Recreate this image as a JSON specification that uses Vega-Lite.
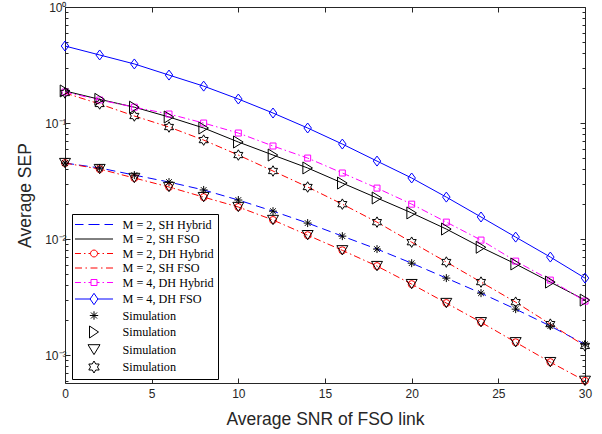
{
  "$schema": "https://vega.github.io/schema/vega-lite/v6.json",
  "width": 520,
  "height": 376,
  "autosize": "none",
  "padding": {"left": 65, "top": 7, "right": 17, "bottom": 51},
  "background": "white",
  "config": {
    "view": {"stroke": null},
    "axis": {"grid": false, "labelFont": "Liberation Sans", "titleFont": "Liberation Sans", "labelColor": "#262626", "titleColor": "#262626", "domainColor": "#262626", "tickColor": "#262626", "domainWidth": 1, "tickWidth": 1, "labelFontSize": 12, "titleFontSize": 17.5, "titleFontWeight": "normal", "labelOverlap": false, "labelFlush": false}
  },
  "data": {
    "values": [
      {"snr":0,"sep":0.0452,"s":"L1"},{"snr":2,"sep":0.041,"s":"L1"},{"snr":4,"sep":0.0356,"s":"L1"},{"snr":6,"sep":0.031,"s":"L1"},{"snr":8,"sep":0.0265,"s":"L1"},{"snr":10,"sep":0.0217,"s":"L1"},{"snr":12,"sep":0.0174,"s":"L1"},{"snr":14,"sep":0.01374,"s":"L1"},{"snr":16,"sep":0.0106,"s":"L1"},{"snr":18,"sep":0.0082,"s":"L1"},{"snr":20,"sep":0.0062,"s":"L1"},{"snr":22,"sep":0.00461,"s":"L1"},{"snr":24,"sep":0.00342,"s":"L1"},{"snr":26,"sep":0.00249,"s":"L1"},{"snr":28,"sep":0.00178,"s":"L1"},{"snr":30,"sep":0.00124,"s":"L1"},
      {"snr":0,"sep":0.189,"s":"L2"},{"snr":2,"sep":0.16,"s":"L2"},{"snr":4,"sep":0.137,"s":"L2"},{"snr":6,"sep":0.1127,"s":"L2"},{"snr":8,"sep":0.0906,"s":"L2"},{"snr":10,"sep":0.0686,"s":"L2"},{"snr":12,"sep":0.053,"s":"L2"},{"snr":14,"sep":0.041,"s":"L2"},{"snr":16,"sep":0.0304,"s":"L2"},{"snr":18,"sep":0.0226,"s":"L2"},{"snr":20,"sep":0.0168,"s":"L2"},{"snr":22,"sep":0.0122,"s":"L2"},{"snr":24,"sep":0.0085,"s":"L2"},{"snr":26,"sep":0.0061,"s":"L2"},{"snr":28,"sep":0.00426,"s":"L2"},{"snr":30,"sep":0.00298,"s":"L2"},
      {"snr":0,"sep":0.0452,"s":"L3"},{"snr":2,"sep":0.0401,"s":"L3"},{"snr":4,"sep":0.0336,"s":"L3"},{"snr":6,"sep":0.0281,"s":"L3"},{"snr":8,"sep":0.023,"s":"L3"},{"snr":10,"sep":0.0189,"s":"L3"},{"snr":12,"sep":0.0146,"s":"L3"},{"snr":14,"sep":0.0108,"s":"L3"},{"snr":16,"sep":0.008,"s":"L3"},{"snr":18,"sep":0.00585,"s":"L3"},{"snr":20,"sep":0.00409,"s":"L3"},{"snr":22,"sep":0.00281,"s":"L3"},{"snr":24,"sep":0.00192,"s":"L3"},{"snr":26,"sep":0.00129,"s":"L3"},{"snr":28,"sep":0.00087,"s":"L3"},{"snr":30,"sep":0.0006,"s":"L3"},
      {"snr":0,"sep":0.1815,"s":"L4"},{"snr":2,"sep":0.146,"s":"L4"},{"snr":4,"sep":0.115,"s":"L4"},{"snr":6,"sep":0.0924,"s":"L4"},{"snr":8,"sep":0.0713,"s":"L4"},{"snr":10,"sep":0.053,"s":"L4"},{"snr":12,"sep":0.0386,"s":"L4"},{"snr":14,"sep":0.0281,"s":"L4"},{"snr":16,"sep":0.02,"s":"L4"},{"snr":18,"sep":0.014,"s":"L4"},{"snr":20,"sep":0.0094,"s":"L4"},{"snr":22,"sep":0.00634,"s":"L4"},{"snr":24,"sep":0.00426,"s":"L4"},{"snr":26,"sep":0.00286,"s":"L4"},{"snr":28,"sep":0.00185,"s":"L4"},{"snr":30,"sep":0.0012,"s":"L4"},
      {"snr":0,"sep":0.185,"s":"L5"},{"snr":2,"sep":0.158,"s":"L5"},{"snr":4,"sep":0.137,"s":"L5"},{"snr":6,"sep":0.1196,"s":"L5"},{"snr":8,"sep":0.1,"s":"L5"},{"snr":10,"sep":0.082,"s":"L5"},{"snr":12,"sep":0.0634,"s":"L5"},{"snr":14,"sep":0.0499,"s":"L5"},{"snr":16,"sep":0.0371,"s":"L5"},{"snr":18,"sep":0.0275,"s":"L5"},{"snr":20,"sep":0.02,"s":"L5"},{"snr":22,"sep":0.014,"s":"L5"},{"snr":24,"sep":0.0098,"s":"L5"},{"snr":26,"sep":0.00646,"s":"L5"},{"snr":28,"sep":0.00443,"s":"L5"},{"snr":30,"sep":0.00292,"s":"L5"},
      {"snr":0,"sep":0.461,"s":"L6"},{"snr":2,"sep":0.386,"s":"L6"},{"snr":4,"sep":0.323,"s":"L6"},{"snr":6,"sep":0.259,"s":"L6"},{"snr":8,"sep":0.208,"s":"L6"},{"snr":10,"sep":0.161,"s":"L6"},{"snr":12,"sep":0.122,"s":"L6"},{"snr":14,"sep":0.0906,"s":"L6"},{"snr":16,"sep":0.0659,"s":"L6"},{"snr":18,"sep":0.047,"s":"L6"},{"snr":20,"sep":0.0336,"s":"L6"},{"snr":22,"sep":0.023,"s":"L6"},{"snr":24,"sep":0.0155,"s":"L6"},{"snr":26,"sep":0.0104,"s":"L6"},{"snr":28,"sep":0.007,"s":"L6"},{"snr":30,"sep":0.00461,"s":"L6"}
    ]
  },
  "encoding": {
    "x": {"field": "snr", "type": "quantitative", "scale": {"domain": [0, 30], "nice": false, "zero": false}, "axis": null},
    "y": {"field": "sep", "type": "quantitative", "scale": {"type": "log", "domain": [0.000575, 1], "nice": false}, "axis": null}
  },
  "layer": [
    {
      "transform": [{"filter": "datum.s == 'L1'"}],
      "mark": {"type": "line", "color": "#0000ff", "strokeWidth": 1, "strokeDash": [9, 5]},
      "encoding": {
        "x": {"field": "snr", "type": "quantitative", "scale": {"domain": [0, 30], "nice": false, "zero": false},
          "axis": {"orient": "bottom", "values": [0, 5, 10, 15, 20, 25, 30], "title": "Average SNR of FSO link", "tickSize": -5, "labelPadding": 10, "titlePadding": 11}},
        "y": {"field": "sep", "type": "quantitative", "scale": {"type": "log", "domain": [0.000575, 1], "nice": false},
          "axis": {"orient": "left", "title": "Average SEP", "titlePadding": 10, "labelPadding": 4,
            "values": [0.0006, 0.0007, 0.0008, 0.0009, 0.001, 0.002, 0.003, 0.004, 0.005, 0.006, 0.007, 0.008, 0.009, 0.01, 0.02, 0.03, 0.04, 0.05, 0.06, 0.07, 0.08, 0.09, 0.1, 0.2, 0.3, 0.4, 0.5, 0.6, 0.7, 0.8, 0.9, 1],
            "labelExpr": "datum.value == 1 ? '10⁰' : datum.value == 0.1 ? '10⁻¹' : datum.value == 0.01 ? '10⁻²' : datum.value == 0.001 ? '10⁻³' : ''",
            "tickSize": {"condition": {"test": "datum.value == 1 || datum.value == 0.1 || datum.value == 0.01 || datum.value == 0.001", "value": -5}, "value": -3}}}
      }
    },
    {
      "transform": [{"filter": "datum.s == 'L2'"}],
      "mark": {"type": "line", "color": "#000000", "strokeWidth": 1},
      "encoding": {
        "x": {"field": "snr", "type": "quantitative", "scale": {"domain": [0, 30], "nice": false, "zero": false},
          "axis": {"orient": "top", "values": [0, 5, 10, 15, 20, 25, 30], "title": null, "labels": false, "tickSize": -5}},
        "y": {"field": "sep", "type": "quantitative", "scale": {"type": "log", "domain": [0.000575, 1], "nice": false},
          "axis": {"orient": "right", "title": null, "labels": false,
            "values": [0.0006, 0.0007, 0.0008, 0.0009, 0.001, 0.002, 0.003, 0.004, 0.005, 0.006, 0.007, 0.008, 0.009, 0.01, 0.02, 0.03, 0.04, 0.05, 0.06, 0.07, 0.08, 0.09, 0.1, 0.2, 0.3, 0.4, 0.5, 0.6, 0.7, 0.8, 0.9, 1],
            "tickSize": {"condition": {"test": "datum.value == 1 || datum.value == 0.1 || datum.value == 0.01 || datum.value == 0.001", "value": -5}, "value": -3}}}
      }
    },
    {
      "transform": [{"filter": "datum.s == 'L3'"}],
      "mark": {"type": "line", "color": "#ff0000", "strokeWidth": 1, "strokeDash": [7, 3, 1.5, 3]}
    },
    {
      "transform": [{"filter": "datum.s == 'L4'"}],
      "mark": {"type": "line", "color": "#ff0000", "strokeWidth": 1, "strokeDash": [7, 3, 1.5, 3]}
    },
    {
      "transform": [{"filter": "datum.s == 'L5'"}],
      "mark": {"type": "line", "color": "#ff00ff", "strokeWidth": 1, "strokeDash": [7, 3, 1.5, 3]}
    },
    {
      "transform": [{"filter": "datum.s == 'L6'"}],
      "mark": {"type": "line", "color": "#0000ff", "strokeWidth": 1}
    },
    {
      "transform": [{"filter": "datum.s == 'L3'"}],
      "mark": {"type": "point", "shape": "circle", "size": 49, "filled": false, "color": "#ff0000", "strokeWidth": 1, "opacity": 1}
    },
    {
      "transform": [{"filter": "datum.s == 'L5'"}],
      "mark": {"type": "point", "shape": "square", "size": 36, "filled": false, "color": "#ff00ff", "strokeWidth": 1, "opacity": 1}
    },
    {
      "transform": [{"filter": "datum.s == 'L6'"}],
      "mark": {"type": "point", "shape": "M0,-1L0.75,0L0,1L-0.75,0Z", "size": 100, "filled": false, "color": "#0000ff", "strokeWidth": 1, "opacity": 1}
    },
    {
      "transform": [{"filter": "datum.s == 'L1'"}],
      "mark": {"type": "point", "shape": "M0,-1V1M-1,0H1M-0.7,-0.7L0.7,0.7M-0.7,0.7L0.7,-0.7", "size": 64, "filled": false, "color": "#000000", "strokeWidth": 1, "opacity": 1}
    },
    {
      "transform": [{"filter": "datum.s == 'L2'"}],
      "mark": {"type": "point", "shape": "M-0.8,-1L0.8,0L-0.8,1Z", "size": 144, "filled": false, "color": "#000000", "strokeWidth": 1, "opacity": 1}
    },
    {
      "transform": [{"filter": "datum.s == 'L3'"}],
      "mark": {"type": "point", "shape": "M-1,-0.85L1,-0.85L0,0.85Z", "size": 121, "filled": false, "color": "#000000", "strokeWidth": 1, "opacity": 1}
    },
    {
      "transform": [{"filter": "datum.s == 'L4'"}],
      "mark": {"type": "point", "shape": "M0,-1L0.289,-0.5L0.866,-0.5L0.577,0L0.866,0.5L0.289,0.5L0,1L-0.289,0.5L-0.866,0.5L-0.577,0L-0.866,-0.5L-0.289,-0.5Z", "size": 110, "filled": false, "color": "#000000", "strokeWidth": 1, "opacity": 1}
    },
    {
      "transform": [{"filter": "false"}],
      "mark": {"type": "point", "filled": false, "strokeWidth": 1, "opacity": 1},
      "encoding": {
        "color": {"field": "entry", "type": "nominal",
          "scale": {"domain": ["k01","k02","k03","k04","k05","k06","k07","k08","k09","k10"], "range": ["#0000ff","#000000","#ff0000","#ff0000","#ff00ff","#0000ff","#000000","#000000","#000000","#000000"]},
          "legend": {"orient": "none", "legendX": 7, "legendY": 207, "direction": "vertical", "title": null,
            "labelExpr": "['M = 2, SH Hybrid','M = 2, SH FSO','M = 2, DH Hybrid','M = 2, SH FSO','M = 4, DH Hybrid','M = 4, DH FSO','Simulation','Simulation','Simulation','Simulation'][indexof(['k01','k02','k03','k04','k05','k06','k07','k08','k09','k10'], datum.value)]",
            "labelFont": "Liberation Serif", "labelFontSize": 12.2, "labelColor": "#000000", "labelLimit": 400,
            "labelOffset": 22, "symbolSize": 144, "symbolOffset": 11.5, "symbolStrokeWidth": 1,
            "rowPadding": 1.5, "padding": 4, "strokeColor": "#000000", "fillColor": "#ffffff", "cornerRadius": 0}},
        "shape": {"field": "entry", "type": "nominal",
          "scale": {"domain": ["k01","k02","k03","k04","k05","k06","k07","k08","k09","k10"], "range": [
            "M-3.17,0H-1.75M-0.92,0H0.92M1.75,0H3.17",
            "M-3.17,0H3.17",
            "M-3.17,0H-2.17M-1.67,0H-1.42M-0.92,0H-0.58M0.58,0H0.92M1.42,0H1.67M2.17,0H3.17M-0.58,0A0.58,0.58 0 1,0 0.58,0A0.58,0.58 0 1,0 -0.58,0Z",
            "M-3.17,0H-2M-1.42,0H-1.17M-0.58,0H0.58M1.17,0H1.42M2,0H3.17",
            "M-3.17,0H-2.17M-1.67,0H-1.42M-0.92,0H-0.5M0.5,0H0.92M1.42,0H1.67M2.17,0H3.17M-0.5,-0.5H0.5V0.5H-0.5Z",
            "M-3.17,0H-0.65M0.65,0H3.17M0,-0.95L0.65,0L0,0.95L-0.65,0Z",
            "M0,-0.7V0.7M-0.7,0H0.7M-0.5,-0.5L0.5,0.5M-0.5,0.5L0.5,-0.5",
            "M-0.75,-1L0.75,0L-0.75,1Z",
            "M-1,-0.8L1,-0.8L0,0.85Z",
            "M0,-1L0.289,-0.5L0.866,-0.5L0.577,0L0.866,0.5L0.289,0.5L0,1L-0.289,0.5L-0.866,0.5L-0.577,0L-0.866,-0.5L-0.289,-0.5Z"]},
          "legend": {"orient": "none", "legendX": 7, "legendY": 207, "direction": "vertical", "title": null,
            "labelExpr": "['M = 2, SH Hybrid','M = 2, SH FSO','M = 2, DH Hybrid','M = 2, SH FSO','M = 4, DH Hybrid','M = 4, DH FSO','Simulation','Simulation','Simulation','Simulation'][indexof(['k01','k02','k03','k04','k05','k06','k07','k08','k09','k10'], datum.value)]",
            "labelFont": "Liberation Serif", "labelFontSize": 12.2, "labelColor": "#000000", "labelLimit": 400,
            "labelOffset": 22, "symbolSize": 144, "symbolOffset": 11.5, "symbolStrokeWidth": 1,
            "rowPadding": 1.5, "padding": 4, "strokeColor": "#000000", "fillColor": "#ffffff", "cornerRadius": 0}}
      }
    }
  ],
  "resolve": {"axis": {"x": "independent", "y": "independent"}}
}
